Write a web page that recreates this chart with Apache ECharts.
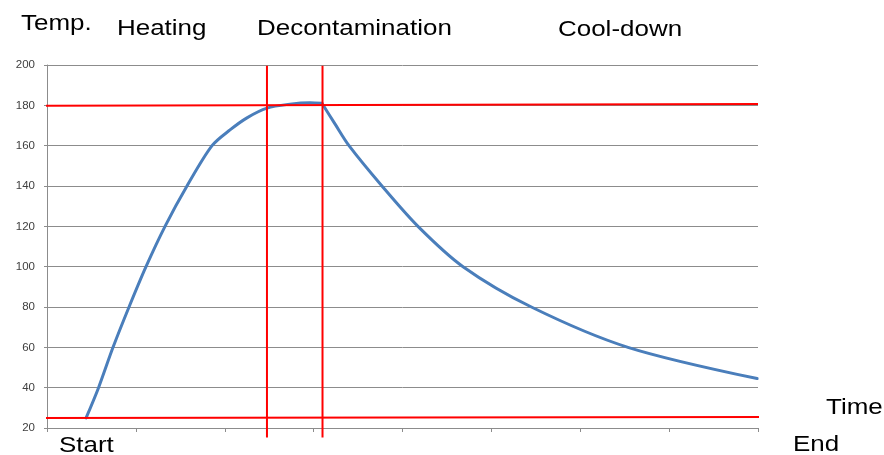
<!DOCTYPE html>
<html>
<head>
<meta charset="utf-8">
<script src="https://cdn.jsdelivr.net/npm/echarts@6/dist/echarts.min.js"></script>
<style>
  html, body { margin: 0; padding: 0; background: #fff; }
  #chart { width: 884px; height: 455px; }
</style>
</head>
<body>
<div id="chart"></div>
<script>
// Temperature profile of a heat-decontamination cycle (time in arbitrary units)
// Heating and hold phase
const heatTimes = [0.44, 0.58, 0.743, 0.923, 1.114, 1.328, 1.575, 1.857, 2.059, 2.25, 2.475, 2.734, 2.96, 3.094];
const heatTemps = [25, 40, 60, 80, 100, 120, 140, 160, 167.8, 173.8, 178.6, 180.6, 181.3, 181];
// Cool-down phase
const coolTimes = [3.094, 3.24, 3.398, 3.769, 4.174, 4.681, 5.45, 6.537, 7.99];
const coolTemps = [181, 170.8, 160, 140, 120, 100, 80, 60, 44.5];

// Reference lines: target and ambient temperature, phase boundaries
const targetLine = [[-0.02, 179.8], [8.0, 180.6]];
const ambientLine = [[-0.06, 24.9], [8.02, 25.4]];
const phaseStart = [[2.475, 199.6], [2.475, 15.3]];
const phaseEnd = [[3.1, 199.6], [3.1, 15.3]];

const yTicks = { min: 20, max: 200, step: 20 };
const xRange = { min: 0, max: 8, step: 1 };

// Annotation texts
const labels = [
  { text: 'Temp.', x: 21, y: 24 },
  { text: 'Heating', x: 117, y: 29 },
  { text: 'Decontamination', x: 257, y: 29 },
  { text: 'Cool-down', x: 558, y: 29.5 },
  { text: 'Time', x: 826, y: 408 },
  { text: 'Start', x: 59, y: 446 },
  { text: 'End', x: 793, y: 445 }
];

const chart = echarts.init(document.getElementById('chart'));
const red = '#ff0000';
const blue = '#4a7ebb';

function refLine(data) {
  return {
    type: 'line',
    data: data,
    clip: false,
    symbol: 'none',
    silent: true,
    lineStyle: { color: red, width: 2 },
    z: 3
  };
}

function curve(times, temps) {
  return {
    type: 'line',
    data: times.map((t, i) => [t, temps[i]]),
    smooth: 0.3,
    symbol: 'none',
    lineStyle: { color: blue, width: 3, cap: 'round', join: 'round' },
    z: 2
  };
}

chart.setOption({
  animation: false,
  backgroundColor: '#ffffff',
  grid: { left: 47, right: 126, top: 65, bottom: 27 },
  xAxis: {
    type: 'value',
    min: xRange.min, max: xRange.max, interval: xRange.step,
    axisLine: { show: true, lineStyle: { color: '#8c8c8c', width: 1 } },
    axisTick: { show: true, length: 4, lineStyle: { color: '#8c8c8c' } },
    axisLabel: { show: false },
    splitLine: { show: false }
  },
  yAxis: {
    type: 'value',
    min: yTicks.min, max: yTicks.max, interval: yTicks.step,
    axisLine: { show: true, lineStyle: { color: '#8c8c8c', width: 1 } },
    axisTick: { show: true, length: 3, lineStyle: { color: '#8c8c8c' } },
    axisLabel: { color: '#404040', fontSize: 11.5, fontFamily: 'Liberation Sans, Arial, sans-serif', margin: 12 },
    splitLine: { show: true, lineStyle: { color: '#8c8c8c', width: 1 } }
  },
  series: [
    curve(heatTimes, heatTemps),
    curve(coolTimes, coolTemps),
    refLine(targetLine),
    refLine(ambientLine),
    refLine(phaseStart),
    refLine(phaseEnd)
  ],
  graphic: labels.map(l => ({
    type: 'text',
    x: l.x,
    y: l.y,
    scaleX: 1.18,
    silent: true,
    style: {
      text: l.text,
      fill: '#000000',
      font: '22px "Liberation Sans", Arial, sans-serif',
      textVerticalAlign: 'middle',
      verticalAlign: 'middle'
    }
  }))
});
</script>
</body>
</html>
